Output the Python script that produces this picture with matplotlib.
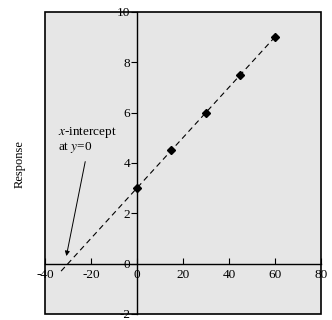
import matplotlib
matplotlib.use('Agg')
from matplotlib import pyplot as plt
from matplotlib.patches import Rectangle

plt.rcParams['font.family'] = ['Liberation Serif', 'DejaVu Serif']
plt.rcParams['mathtext.fontset'] = 'stix'
plt.rcParams['axes.unicode_minus'] = False

# dane
conc = [0, 15, 30, 45, 60]
resp = [3.0, 4.5, 6.0, 7.5, 9.0]
fit_x = [-33, 60]
fit_y = [-0.3, 9.0]
xticks = [-40, -20, 0, 20, 40, 60, 80]
yticks = [-2, 0, 2, 4, 6, 8, 10]

fig = plt.figure(figsize=(3.32, 3.2), dpi=100)
ax = fig.add_axes([0.1355, 0.019, 0.831, 0.944])
ax.set_facecolor('#e6e6e6')
ax.set_xlim(-40, 80)
ax.set_ylim(-2, 10)

# osie przez zero
ax.spines['left'].set_position(('data', 0))
ax.spines['bottom'].set_position(('data', 0))
ax.spines['right'].set_visible(False)
ax.spines['top'].set_visible(False)
for s in ['left', 'bottom']:
    ax.spines[s].set_linewidth(1.0)
ax.add_patch(Rectangle((0, 0), 1, 1, transform=ax.transAxes, fill=False,
                       edgecolor='black', linewidth=1.2, zorder=5, clip_on=False))

ax.set_xticks(xticks)
ax.set_yticks(yticks)
ax.tick_params(axis='x', direction='in', length=4, pad=4, labelsize=9.5)
ax.tick_params(axis='y', direction='out', length=4, pad=1, labelsize=9.5)

ax.plot(fit_x, fit_y, color='black', linestyle=(0, (5, 3.5)), linewidth=0.8)
ax.plot(conc, resp, linestyle='none', marker='D', markersize=4.5, color='black')

ax.annotate('', xy=(-30.7, 0.3), xytext=(-22.5, 4.05),
            arrowprops=dict(arrowstyle='-|>', color='black', lw=0.7,
                            mutation_scale=7, shrinkA=0, shrinkB=0))
ax.text(-34.5, 4.3, r'$x$-intercept' + '\nat $y$=0', fontsize=9.5,
        va='bottom', ha='left', linespacing=1.0)

fig.text(0.06, 0.4875, 'Response', rotation=90, ha='center', va='center',
         fontsize=9)

fig.savefig('out.png', dpi=100)
